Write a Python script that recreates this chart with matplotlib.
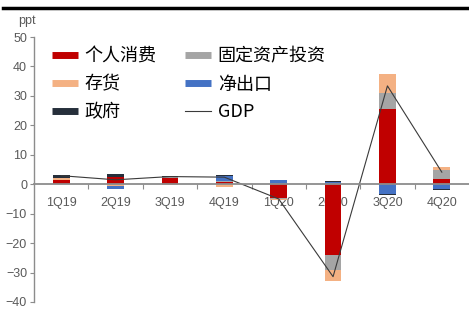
import matplotlib
matplotlib.use("Agg")
import matplotlib.pyplot as plt
from matplotlib.lines import Line2D
import numpy as np

plt.rcParams['font.family'] = ['Liberation Sans', 'Noto Sans CJK SC', 'DejaVu Sans']

quarters = ["1Q19", "2Q19", "3Q19", "4Q19", "1Q20", "2Q20", "3Q20", "4Q20"]
consumption = [1.3, 2.4, 2.2, 0.9, -4.7, -24.0, 25.4, 1.7]
fixed_inv = [0.3, 0.0, 0.1, 0.1, -0.2, -5.0, 5.6, 3.0]
inventory = [0.4, -0.7, -0.1, -0.9, -0.5, -3.7, 6.4, 1.2]
net_exports = [0.2, -0.8, -0.1, 1.7, 1.3, 0.7, -3.2, -1.7]
government = [0.9, 1.2, 0.4, 0.4, 0.3, 0.5, -0.4, -0.2]
gdp = [2.9, 1.5, 2.6, 2.4, -5.0, -31.4, 33.4, 4.1]

series = [
    ("个人消费", consumption, "#C00000"),
    ("固定资产投资", fixed_inv, "#A5A5A5"),
    ("存货", inventory, "#F4B183"),
    ("净出口", net_exports, "#4472C4"),
    ("政府", government, "#262F3B"),
]

fig = plt.figure(figsize=(4.69, 3.12), dpi=100)
ax = fig.add_axes([34/469, 1 - 302/312, 435/469, 265/312])

x = np.arange(len(quarters))
pos_base = np.zeros(len(x))
neg_base = np.zeros(len(x))
width = 0.31
for name, vals, col in series:
    v = np.array(vals, dtype=float)
    bottoms = np.where(v >= 0, pos_base, neg_base)
    ax.bar(x, v, width=width, bottom=bottoms, color=col, linewidth=0, zorder=2)
    pos_base = pos_base + np.where(v >= 0, v, 0)
    neg_base = neg_base + np.where(v < 0, v, 0)

ax.plot(x, gdp, color="#3a3a3a", lw=0.8, zorder=3)

ax.set_xlim(-0.5, 7.5)
ax.set_ylim(-40, 50)
ax.set_yticks(np.arange(-40, 51, 10))

grey = "#595959"
for s in ["top", "right"]:
    ax.spines[s].set_visible(False)
ax.spines["bottom"].set_position(("data", 0))
ax.spines["bottom"].set_color("#8C8C8C")
ax.spines["bottom"].set_linewidth(1.3)
ax.spines["bottom"].set_zorder(4)
ax.spines["left"].set_color("#8C8C8C")
ax.spines["left"].set_linewidth(1.0)

ax.set_xticks(x)
ax.set_xticklabels(quarters)
ax.set_xticks(np.arange(0.5, 7.5, 1), minor=True)
ax.tick_params(axis="x", which="major", length=0, pad=9, labelsize=9, labelcolor=grey)
ax.tick_params(axis="x", which="minor", length=3.5, width=0.8, color="#8C8C8C", direction="out")
ax.tick_params(axis="y", length=3, width=0.8, color="#8C8C8C", pad=2, labelsize=9, labelcolor=grey)

fig.text(18/469, 1 - 21/312, "ppt", fontsize=9, color=grey, va="center", ha="left")

handles = []
labels = []
for name, vals, col in series:
    handles.append(Line2D([0], [0], color=col, lw=5, solid_capstyle="butt"))
    labels.append(name)
handles.append(Line2D([0], [0], color="#3a3a3a", lw=0.8))
labels.append("GDP")
order = [0, 2, 4, 1, 3, 5]
leg = ax.legend([handles[i] for i in order], [labels[i] for i in order], ncol=2,
                loc="upper left", bbox_to_anchor=(0.041, 0.96), frameon=False,
                handlelength=1.45, handletextpad=0.35, columnspacing=1.6,
                labelspacing=0.55, borderpad=0, borderaxespad=0,
                prop={"family": ["Noto Sans CJK SC", "DejaVu Sans"], "size": 13})

fig.add_artist(Line2D([3/469, 1.0], [1 - 7.5/312, 1 - 7.5/312], color="black", lw=2.5,
                      transform=fig.transFigure))

fig.savefig("out.png", dpi=100)
